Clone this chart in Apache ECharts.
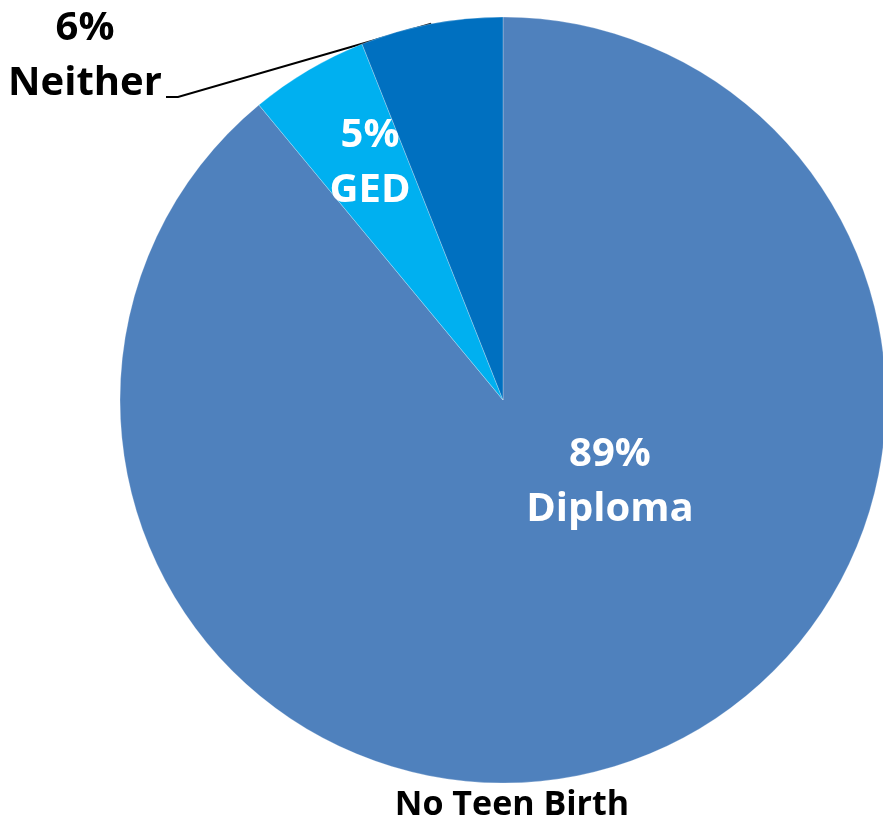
<!DOCTYPE html>
<html>
<head>
<meta charset="utf-8">
<script src="https://cdn.jsdelivr.net/npm/echarts@6/dist/echarts.min.js"></script>
<style>
  html, body { margin: 0; padding: 0; background: #fff; }
  #chart { width: 883px; height: 822px; }
</style>
</head>
<body>
<div id="chart"></div>
<script>
// data
var categories = ['Diploma', 'GED', 'Neither'];
var shares = [89, 5, 6];
var colors = ['#4F81BD', '#00B0F0', '#0070C0'];
var chartTitle = 'No Teen Birth';

// where each label block sits (centre of the text)
var labelPos = [[610, 482], [370, 163], [85, 56]];

var font = '"Open Sans", "DejaVu Sans", sans-serif';

var chart = echarts.init(document.getElementById('chart'));

var option = {
  animation: false,
  title: {
    text: chartTitle,
    left: 507,
    top: 783,
    textAlign: 'center',
    textStyle: { fontFamily: font, fontWeight: 'bold', fontSize: 34, color: '#000' }
  },
  series: [{
    type: 'pie',
    center: [503, 400],
    radius: 383,
    startAngle: 90,
    clockwise: true,
    itemStyle: { borderColor: 'rgba(255,255,255,0.5)', borderWidth: 0.5 },
    label: {
      formatter: function (p) { return p.value + '%\n' + p.name; },
      fontFamily: font,
      fontWeight: 'bold',
      fontSize: 40,
      lineHeight: 55,
      align: 'center'
    },
    labelLayout: function (params) {
      var pos = labelPos[params.dataIndex];
      var out = { x: pos[0], y: pos[1], align: 'center', verticalAlign: 'middle' };
      if (params.dataIndex === 2 && params.labelLinePoints) {
        var p0 = params.labelLinePoints[0];
        out.labelLinePoints = [p0, [pos[0] + 93, pos[1] + 41], [pos[0] + 81, pos[1] + 41]];
      }
      return out;
    },
    data: categories.map(function (c, i) {
      var item = { name: c, value: shares[i], itemStyle: { color: colors[i] } };
      if (i === 2) {
        item.label = { position: 'outside', color: '#000' };
        item.labelLine = { show: true, length: 20, length2: 10, smooth: false, lineStyle: { color: '#000', width: 2 } };
      } else {
        item.label = { position: 'inside', color: '#fff' };
        item.labelLine = { show: false };
      }
      return item;
    })
  }]
};

chart.setOption(option);
</script>
</body>
</html>
